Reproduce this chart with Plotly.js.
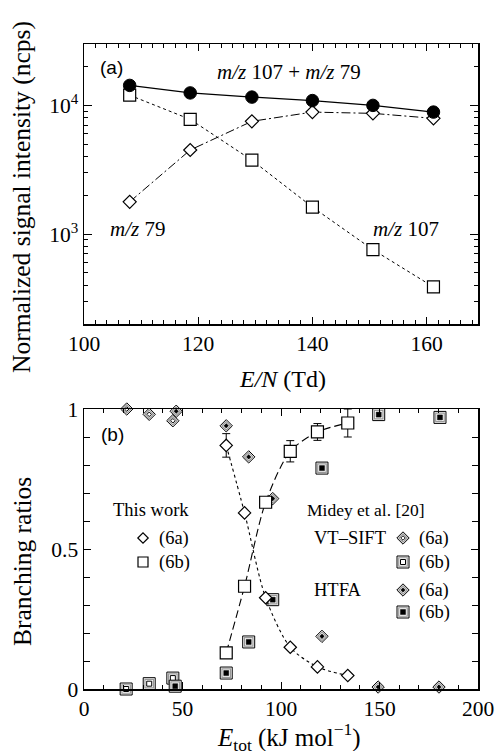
<!DOCTYPE html>
<html><head><meta charset="utf-8">
<script src="https://cdn.plot.ly/plotly-3.0.1.min.js"></script>
<style>html,body{margin:0;padding:0;background:#fff}#c{width:496px;height:751px}</style>
</head><body><div id="c"></div>
<script>
// ---- Panel (a) data ----
const EN = [108, 118.6, 129.4, 140, 150.6, 161.2];
const sumSignal = [14300, 12500, 11600, 10900, 10000, 8870];   // m/z 107 + m/z 79
const mz107 = [12000, 7790, 3750, 1620, 756, 388];
const mz79 = [1780, 4500, 7520, 8870, 8670, 7930];

// ---- Panel (b) data: this work ----
const Etot = [72.2, 81.5, 92.2, 104.7, 118.5, 133.9];
const br6a = [0.870, 0.629, 0.326, 0.149, 0.079, 0.048];
const br6a_err = [0.042, 0, 0, 0, 0, 0];
const br6b = [0.129, 0.367, 0.667, 0.849, 0.918, 0.950];
const br6b_err = [0, 0, 0, 0.038, 0.03, 0.05];

// ---- Midey et al. [20] ----
const vtE6a = [21.7, 33.1, 45.1];
const vt6a = [1.0, 0.981, 0.958];
const vtE6b = [21.4, 33.1, 45.1];
const vt6b = [0.0, 0.019, 0.039];
const htE6a = [46.8, 72.2, 83.6, 95.8, 120.8, 149.3, 180.2];
const ht6a = [0.992, 0.940, 0.829, 0.680, 0.188, 0.007, 0.007];
const htE6b = [46.3, 72.2, 83.6, 95.8, 120.8, 149.6, 180.7];
const ht6b = [0.010, 0.057, 0.168, 0.319, 0.789, 0.980, 0.970];

// tick values
const aTickVals = [1000, 10000];
const aTickText = ['10<sup>3</sup>', '10<sup>4</sup>'];
const aMinorVals = [200,300,400,500,600,700,800,900,2000,3000,4000,5000,6000,7000,8000,9000,20000,30000];

// layout geometry helpers (pixels -> paper)
const L = 84, R = 18, T = 44, B = 62, W = 496, H = 751;
const pw = W - L - R, ph = H - T - B;
const PX = x => (x - L) / pw;
const PY = y => (H - B - y) / ph;
const domA = [PY(324), PY(44)];
const domB = [PY(689), PY(409)];

const serif = '"Liberation Serif", "Times New Roman", serif';
const sans = '"Liberation Sans", Arial, sans-serif';

const traces = [];
// Panel (a)
traces.push({x: EN, y: mz107, xaxis:'x', yaxis:'y', mode:'lines+markers', cliponaxis:false,
  line:{color:'#000', width:1, dash:'3px,3px'},
  marker:{symbol:'square', size:12, color:'#fff', line:{color:'#000', width:1.2}}});
traces.push({x: EN, y: mz79, xaxis:'x', yaxis:'y', mode:'lines+markers', cliponaxis:false,
  line:{color:'#000', width:1, dash:'9px,3px,2px,3px'},
  marker:{symbol:'diamond', size:10, color:'#fff', line:{color:'#000', width:1.2}}});
traces.push({x: EN, y: sumSignal, xaxis:'x', yaxis:'y', mode:'lines+markers', cliponaxis:false,
  line:{color:'#000', width:1.3},
  marker:{symbol:'circle', size:12.5, color:'#000', line:{color:'#000', width:1}}});

// Panel (b) Midey et al. (double markers)
function dbl(xs, ys, sym, inner, ax, ay) {
  const isD = sym === 'diamond';
  traces.push({x: xs, y: ys, xaxis: ax||'x2', yaxis: ay||'y2', mode:'markers', cliponaxis:false,
    marker:{symbol:sym, size: isD?9.5:12, color:'#fff', line:{color:'#000', width:1}}});
  traces.push({x: xs, y: ys, xaxis: ax||'x2', yaxis: ay||'y2', mode:'markers', cliponaxis:false,
    marker:{symbol:sym, size: isD?6.5:8.5, color:'#fff', line:{color:'#999', width:1.2}}});
  traces.push({x: xs, y: ys, xaxis: ax||'x2', yaxis: ay||'y2', mode:'markers', cliponaxis:false,
    marker:{symbol:sym, size: isD?3.5:5, color: inner, line:{color:'#000', width: inner==='#000'?0.5:1}}});
}
dbl(vtE6a, vt6a, 'diamond', '#fff');
dbl(vtE6b, vt6b, 'square', '#fff');
dbl(htE6a, ht6a, 'diamond', '#000');
dbl(htE6b, ht6b, 'square', '#000');

// Panel (b) this work
traces.push({x: Etot, y: br6a, xaxis:'x2', yaxis:'y2', mode:'lines+markers', cliponaxis:false,
  line:{color:'#000', width:1.1, dash:'3px,3px', shape:'spline', smoothing:0.8},
  error_y:{type:'data', array: br6a_err, visible:true, color:'#000', thickness:1, width:4},
  marker:{symbol:'diamond', size:9.5, color:'#fff', line:{color:'#000', width:1.2}}});
traces.push({x: Etot, y: br6b, xaxis:'x2', yaxis:'y2', mode:'lines+markers', cliponaxis:false,
  line:{color:'#000', width:1.1, dash:'8px,4px', shape:'spline', smoothing:0.8},
  error_y:{type:'data', array: br6b_err, visible:true, color:'#000', thickness:1, width:4},
  marker:{symbol:'square', size:12, color:'#fff', line:{color:'#000', width:1.2}}});

// Legend keys (placed on a hidden 0..1 key axis over panel (b))
const kx = px => (px - L) / pw;
const ky = py => (689 - py) / 280;
traces.push({x:[kx(143)], y:[ky(538)], xaxis:'x3', yaxis:'y3', mode:'markers', cliponaxis:false,
  marker:{symbol:'diamond', size:8, color:'#fff', line:{color:'#000', width:1.2}}});
traces.push({x:[kx(143)], y:[ky(562)], xaxis:'x3', yaxis:'y3', mode:'markers', cliponaxis:false,
  marker:{symbol:'square', size:10, color:'#fff', line:{color:'#000', width:1.2}}});
dbl([kx(403)], [ky(538)], 'diamond', '#fff', 'x3', 'y3');
dbl([kx(403)], [ky(562)], 'square', '#fff', 'x3', 'y3');
dbl([kx(403)], [ky(590)], 'diamond', '#000', 'x3', 'y3');
dbl([kx(403)], [ky(612)], 'square', '#000', 'x3', 'y3');

const axCommon = {showline:true, linecolor:'#000', linewidth:1.5, mirror:'ticks', ticks:'inside',
  ticklen:7, tickwidth:1, tickcolor:'#000', showgrid:false, zeroline:false,
  tickfont:{family:serif, size:21.5, color:'#000'}};

const ann = (x, y, text, opts) => Object.assign({xref:'paper', yref:'paper', x:PX(x), y:PY(y),
  xanchor:'center', yanchor:'middle',
  text, showarrow:false, font:{family:serif, size:18.5, color:'#000'}}, opts||{});

const layout = {
  width: W, height: H, margin:{l:L, r:R, t:T, b:B}, showlegend:false,
  paper_bgcolor:'#fff', plot_bgcolor:'rgba(0,0,0,0)',
  font:{family:serif, color:'#000'},
  xaxis: Object.assign({}, axCommon, {domain:[0,1], anchor:'y', range:[100,169], tickvals:[100,120,140,160],
    minor:{dtick:2, ticklen:4, tickcolor:'#000', ticks:'inside'}}),
  yaxis: Object.assign({}, axCommon, {domain:domA, anchor:'x', type:'log', range:[Math.log10(200), Math.log10(30000)],
    tickmode:'array', tickvals:aTickVals, ticktext:aTickText, ticklen:8,
    minor:{tickmode:'array', tickvals:aMinorVals, ticklen:4, tickcolor:'#000', ticks:'inside'}}),
  xaxis2: Object.assign({}, axCommon, {domain:[0,1], anchor:'y2', range:[0,200], tickvals:[0,50,100,150,200],
    minor:{dtick:10, ticklen:4, tickcolor:'#000', ticks:'inside'}}),
  yaxis2: Object.assign({}, axCommon, {domain:domB, anchor:'x2', range:[0,1], tickvals:[0,0.5,1], ticktext:['0','0.5','1'],
    minor:{dtick:0.1, ticklen:6, tickcolor:'#000', ticks:'inside'}}),
  xaxis3: {domain:[0,1], anchor:'y3', range:[0,1], visible:false, overlaying:'x2'},
  yaxis3: {domain:domB, anchor:'x3', range:[0,1], visible:false, overlaying:'y2'},
  annotations: [
    ann(22, 197, 'Normalized signal intensity (ncps)', {textangle:-90, font:{family:serif, size:25.5, color:'#000'}}),
    ann(282, 379, '<i>E/N</i> (Td)', {font:{family:serif, size:24, color:'#000'}}),
    ann(22, 562, 'Branching ratios', {textangle:-90, font:{family:serif, size:25.5, color:'#000'}}),
    ann(289, 737, '<i>E</i><sub>tot</sub> (kJ mol<sup>\u22121</sup>)', {font:{family:serif, size:25, color:'#000'}}),
    ann(111, 67, '(a)', {font:{family:sans, size:19, color:'#000'}}),
    ann(289, 72, '<i>m/z</i> 107 + <i>m/z</i> 79', {font:{family:serif, size:21, color:'#000'}}),
    ann(137, 229, '<i>m/z</i> 79', {font:{family:serif, size:21, color:'#000'}}),
    ann(406, 229, '<i>m/z</i> 107', {font:{family:serif, size:21, color:'#000'}}),
    ann(112, 435, '(b)', {font:{family:sans, size:19, color:'#000'}}),
    ann(151, 510, 'This work'),
    ann(157, 538, '(6a)', {xanchor:'left'}),
    ann(157, 562, '(6b)', {xanchor:'left'}),
    ann(366, 510, 'Midey et al. [20]', {font:{family:serif, size:17.5, color:'#000'}}),
    ann(388, 538, 'VT\u2013SIFT', {xanchor:'right'}),
    ann(417, 538, '(6a)', {xanchor:'left'}),
    ann(417, 562, '(6b)', {xanchor:'left'}),
    ann(364, 590, 'HTFA', {xanchor:'right'}),
    ann(417, 590, '(6a)', {xanchor:'left'}),
    ann(417, 612, '(6b)', {xanchor:'left'})
  ]
};

Plotly.newPlot('c', traces, layout, {displayModeBar:false, staticPlot:true});
</script></body></html>
